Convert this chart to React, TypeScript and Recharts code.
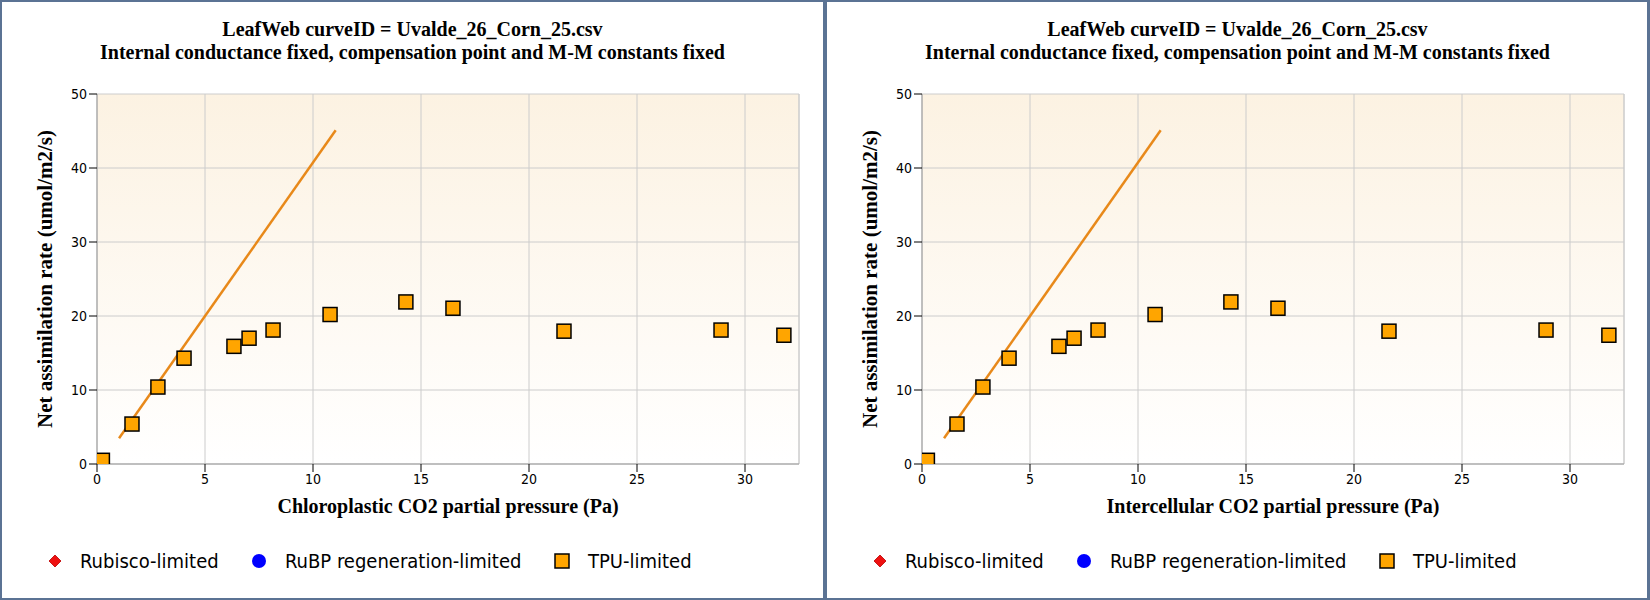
import React from "react";
import {
  CartesianGrid,
  ReferenceLine,
  Scatter,
  ScatterChart,
  XAxis,
  YAxis,
} from "recharts";

// TPU-limited observations (Ci / Cc in Pa, A in umol/m2/s)
const pressureValues = [0.25, 1.62, 2.82, 4.03, 6.34, 7.04, 8.15, 10.79, 14.3, 16.48, 21.62, 28.89, 31.8];
const assimilationValues = [0.5, 5.4, 10.4, 14.3, 15.9, 17.0, 18.1, 20.2, 21.9, 21.05, 17.95, 18.1, 17.4];

// Rubisco-limited model curve end points
const rubiscoX = [1.02, 11.05];
const rubiscoY = [3.47, 45.1];

const xTicks = [0, 5, 10, 15, 20, 25, 30];
const yTicks = [0, 10, 20, 30, 40, 50];

const titleLine1 = "LeafWeb curveID = Uvalde_26_Corn_25.csv";
const titleLine2 = "Internal conductance fixed, compensation point and M-M constants fixed";
const yTitle = "Net assimilation rate (umol/m2/s)";
const panelXTitles = [
  "Chloroplastic CO2 partial pressure (Pa)",
  "Intercellular CO2 partial pressure (Pa)",
];

const tpuData = pressureValues.map((x, i) => ({ x, y: assimilationValues[i] }));
const rubiscoData = rubiscoX.map((x, i) => ({ x, y: rubiscoY[i] }));

const PANEL_W = 825;
const PANEL_H = 600;
const PLOT_LEFT = 97;
const PLOT_RIGHT = 799;
const PLOT_TOP = 94;
const PLOT_BOTTOM = 464;

const serif = "'Times New Roman', 'Liberation Serif', serif";
const sans = "Tahoma, 'DejaVu Sans Condensed', 'DejaVu Sans', sans-serif";

const TpuSquare = (props: any) => {
  const { cx, cy } = props;
  if (cx == null || cy == null) return <g />;
  return (
    <rect
      x={cx - 7}
      y={cy - 7}
      width={14}
      height={14}
      fill="#ffa500"
      stroke="#000"
      strokeWidth={1.5}
    />
  );
};

const Panel = ({ left, xTitle, id }: { left: number; xTitle: string; id: string }) => {
  const plotCenter = (PLOT_LEFT + PLOT_RIGHT) / 2;
  return (
    <div
      style={{
        position: "absolute",
        left,
        top: 0,
        width: PANEL_W,
        height: PANEL_H,
        background: "#fff",
      }}
    >
      <ScatterChart
        width={PANEL_W}
        height={PANEL_H}
        margin={{ top: PLOT_TOP, right: PANEL_W - PLOT_RIGHT, bottom: PANEL_H - PLOT_BOTTOM - 30, left: 0 }}
      >
        <defs>
          <linearGradient id={id} x1="0" y1="0" x2="0" y2="1">
            <stop offset="0%" stopColor="#fcf2e2" />
            <stop offset="100%" stopColor="#ffffff" />
          </linearGradient>
        </defs>
        <CartesianGrid stroke="#cccccc" fill={`url(#${id})`} />
        <XAxis
          type="number"
          dataKey="x"
          domain={[0, 32.5]}
          ticks={xTicks}
          allowDataOverflow
          height={30}
          tickSize={8}
          axisLine={{ stroke: "#999" }}
          tickLine={{ stroke: "#000" }}
          tick={{ fill: "#000", fontSize: 14, fontFamily: sans }}
        />
        <YAxis
          type="number"
          dataKey="y"
          domain={[0, 50]}
          ticks={yTicks}
          allowDataOverflow
          width={PLOT_LEFT}
          tickSize={8}
          axisLine={{ stroke: "#999" }}
          tickLine={{ stroke: "#000" }}
          tick={{ fill: "#000", fontSize: 14, fontFamily: sans }}
        />
        <ReferenceLine x={32.5} stroke="#cccccc" />
        <Scatter
          data={rubiscoData}
          line={{ stroke: "#e8891a", strokeWidth: 2.5 }}
          shape={() => <g />}
          isAnimationActive={false}
        />
        <Scatter data={tpuData} shape={TpuSquare} isAnimationActive={false} />
      </ScatterChart>

      <div
        style={{
          position: "absolute",
          left: 0,
          width: PANEL_W,
          top: 18,
          textAlign: "center",
          fontFamily: serif,
          fontWeight: "bold",
          fontSize: 20,
          lineHeight: "23px",
          color: "#000",
          whiteSpace: "nowrap",
        }}
      >
        <div>{titleLine1}</div>
        <div>{titleLine2}</div>
      </div>

      <div
        style={{
          position: "absolute",
          left: 45 - 200,
          top: (PLOT_TOP + PLOT_BOTTOM) / 2 - 12,
          width: 400,
          height: 24,
          lineHeight: "24px",
          textAlign: "center",
          transform: "rotate(-90deg)",
          fontFamily: serif,
          fontWeight: "bold",
          fontSize: 21,
          color: "#000",
          whiteSpace: "nowrap",
        }}
      >
        {yTitle}
      </div>

      <div
        style={{
          position: "absolute",
          left: plotCenter - 250,
          width: 500,
          top: 495,
          lineHeight: "23px",
          textAlign: "center",
          fontFamily: serif,
          fontWeight: "bold",
          fontSize: 20,
          color: "#000",
          whiteSpace: "nowrap",
        }}
      >
        {xTitle}
      </div>

      <svg
        width={PANEL_W}
        height={40}
        style={{ position: "absolute", left: 0, top: 541 }}
      >
        <g transform="translate(0,20)">
          <polygon points="55,-6 61,0 55,6 49,0" fill="#ee1111" stroke="#b00" strokeWidth={0.8} />
          <text x={80} y={7} fontFamily={sans} fontSize={20} fill="#000">
            Rubisco-limited
          </text>
          <circle cx={259} cy={0} r={7} fill="#0000ff" />
          <text x={285} y={7} fontFamily={sans} fontSize={20} fill="#000">
            RuBP regeneration-limited
          </text>
          <rect x={555} y={-7} width={14} height={14} fill="#ffa500" stroke="#000" strokeWidth={1.5} />
          <text x={588} y={7} fontFamily={sans} fontSize={20} fill="#000">
            TPU-limited
          </text>
        </g>
      </svg>
    </div>
  );
};

export default function App() {
  return (
    <div
      style={{
        position: "absolute",
        left: 0,
        top: 0,
        width: 1650,
        height: 600,
        background: "#fff",
        overflow: "hidden",
      }}
    >
      <Panel left={0} xTitle={panelXTitles[0]} id="bgLeft" />
      <Panel left={825} xTitle={panelXTitles[1]} id="bgRight" />
      {/* panel frames */}
      <div
        style={{
          position: "absolute",
          left: 0,
          top: 0,
          width: 825,
          height: 600,
          boxSizing: "border-box",
          border: "2px solid #5b7394",
        }}
      />
      <div
        style={{
          position: "absolute",
          left: 825,
          top: 0,
          width: 825,
          height: 600,
          boxSizing: "border-box",
          border: "2px solid #5b7394",
          borderRightWidth: 3,
        }}
      />
    </div>
  );
}
